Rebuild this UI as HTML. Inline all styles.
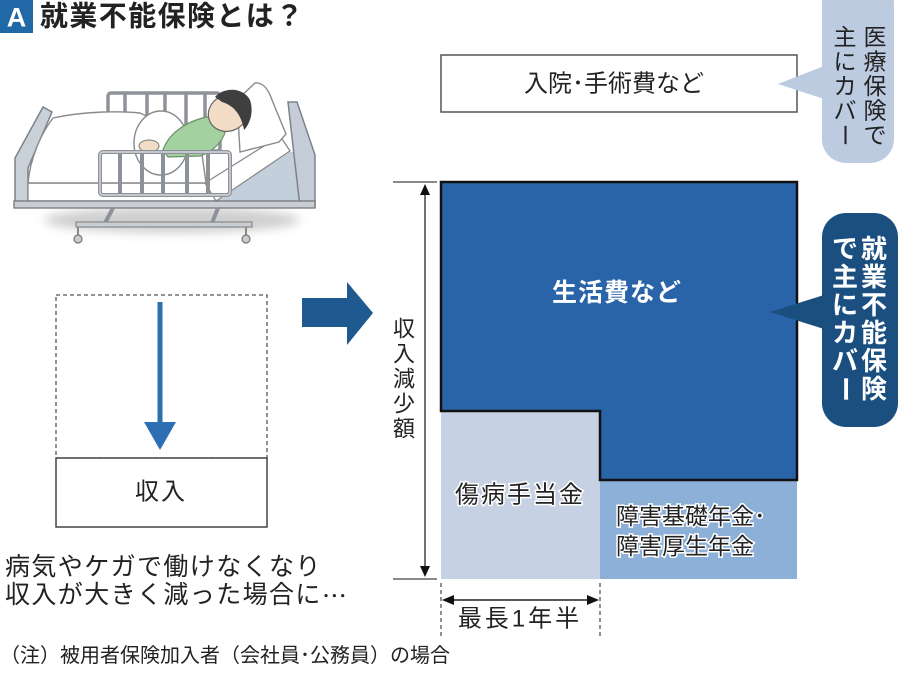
<!DOCTYPE html>
<html><head><meta charset="utf-8">
<style>
html,body{margin:0;padding:0;background:#fff;}
svg{display:block;}
text{font-family:"Liberation Sans","Noto Sans CJK JP",sans-serif;}
</style></head><body>
<svg width="900" height="693" viewBox="0 0 900 693" xmlns="http://www.w3.org/2000/svg">
<defs>
<filter id="blur" x="-20%" y="-80%" width="140%" height="260%"><feGaussianBlur stdDeviation="5"/></filter>
</defs>

<!-- Title -->
<rect x="0" y="0" width="33" height="33" fill="#2069a6"/>
<text x="16.5" y="17.5" text-anchor="middle" dominant-baseline="central" font-size="27" font-weight="bold" fill="#fff">A</text>
<text x="40" y="16" dominant-baseline="central" font-size="28" font-weight="bold" letter-spacing="1.4" fill="#222">就業不能保険とは？</text>

<!-- Bed illustration -->
<g>
  <ellipse cx="172" cy="220" rx="128" ry="13" fill="#cfcfcf" filter="url(#blur)"/>
  <!-- back rail -->
  <g stroke="#8d9299" stroke-width="3.5" fill="none">
    <rect x="108" y="93" width="112" height="58" rx="3"/>
    <line x1="125" y1="93" x2="125" y2="150"/>
    <line x1="147" y1="93" x2="147" y2="150"/>
    <line x1="165" y1="93" x2="165" y2="150"/>
    <line x1="186" y1="93" x2="186" y2="150"/>
    <line x1="205" y1="93" x2="205" y2="150"/>
  </g>
  <!-- left footboard -->
  <polygon points="15,158 43,107 52,112 28,168 28,207 15,207" fill="#c8d0d8" stroke="#7d838a" stroke-width="1.5"/>
  <!-- blue-gray area under backrest -->
  <polygon points="215,201 290,152 300,152 300,203 215,203" fill="#c3cfdb"/>
  <!-- mattress -->
  <rect x="28" y="183" width="190" height="18" fill="#fff" stroke="#8a8a8a" stroke-width="1.3"/>
  <!-- backrest slab -->
  <polygon points="205,183 280,136 290,151 216,201" fill="#fff" stroke="#8a8a8a" stroke-width="1.3"/>
  <!-- blanket -->
  <path d="M28,183 C30,160 40,135 53,118 C85,111 120,111 140,113 L200,140 L206,183 Z" fill="#fff" stroke="#8a8a8a" stroke-width="1.4"/>
  <!-- pillow -->
  <path d="M237,100 L255,83 C262,82 268,88 272,100 L286,134 L279,142 L240,152 Z" fill="#fff" stroke="#8a8a8a" stroke-width="1.4"/>
  <!-- headboard -->
  <polygon points="288,102 297,102 315,155 315,207 300,207" fill="#c5ced8" stroke="#7d838a" stroke-width="1.5"/>
  <!-- lobe (knees/arm under blanket) -->
  <ellipse cx="161" cy="143" rx="27" ry="32" fill="#fff" stroke="#8a8a8a" stroke-width="1.4"/>
  <!-- person -->
  <path d="M163,150 C170,130 192,119 212,116 L226,130 C222,143 212,152 200,156 L168,157 Z" fill="#a3d1a0" stroke="#6b8f6a" stroke-width="1.2"/>
  <ellipse cx="228" cy="113" rx="20" ry="18" transform="rotate(-25 228 113)" fill="#f3dcc6" stroke="#666" stroke-width="1.2"/>
  <path d="M215,97 C225,86 244,88 250,100 C254,112 250,124 244,130 C242,118 236,106 222,102 Z" fill="#3f3f3f"/>
  <ellipse cx="149" cy="146" rx="10" ry="6" fill="#f3dcc6" stroke="#777" stroke-width="1"/>
  <!-- front rail -->
  <g stroke="#8d9299" stroke-width="4" fill="none">
    <rect x="100" y="152" width="130" height="43" rx="3"/>
    <line x1="120" y1="152" x2="120" y2="195"/>
    <line x1="142" y1="152" x2="142" y2="195"/>
    <line x1="163" y1="152" x2="163" y2="195"/>
    <line x1="187" y1="152" x2="187" y2="195"/>
    <line x1="208" y1="152" x2="208" y2="195"/>
  </g>
  <rect x="100" y="152" width="130" height="43" rx="3" fill="none" stroke="#e6e9ec" stroke-width="1.2"/>
  <!-- frame -->
  <rect x="14" y="201" width="301" height="7" fill="#c9ced4" stroke="#777" stroke-width="1.3"/>
  <line x1="113" y1="208" x2="105" y2="223" stroke="#8d9299" stroke-width="4"/>
  <line x1="218" y1="208" x2="212" y2="223" stroke="#8d9299" stroke-width="4"/>
  <rect x="76" y="222" width="176" height="5" fill="#c9ced4" stroke="#888" stroke-width="1.2"/>
  <line x1="78" y1="227" x2="78" y2="235" stroke="#888" stroke-width="2"/>
  <line x1="246" y1="227" x2="246" y2="235" stroke="#888" stroke-width="2"/>
  <circle cx="78" cy="239" r="4" fill="#ccc" stroke="#777" stroke-width="1.2"/>
  <circle cx="246" cy="239" r="4" fill="#ccc" stroke="#777" stroke-width="1.2"/>
</g>

<!-- Top box -->
<rect x="441" y="55" width="356" height="57" fill="#fff" stroke="#555" stroke-width="1.5"/>
<text x="614" y="84" text-anchor="middle" dominant-baseline="central" font-size="24" fill="#222">入院･手術費など</text>

<!-- Light bubble -->
<rect x="822" y="-20" width="72" height="183" rx="24" fill="#bccbe0"/>
<polygon points="824,66 778,84 824,99" fill="#bccbe0"/>
<g font-size="23" fill="#222" text-anchor="middle" dominant-baseline="central">
  <text x="875" y="37">医</text>
  <text x="875" y="61.5">療</text>
  <text x="875" y="86">保</text>
  <text x="875" y="110.5">険</text>
  <text x="875" y="135">で</text>
  <text x="845" y="37">主</text>
  <text x="845" y="61.5">に</text>
  <text x="845" y="86">カ</text>
  <text x="845" y="110.5">バ</text>
  <text x="845" y="135" transform="rotate(90 845 135)">ー</text>
</g>

<!-- Main chart -->
<rect x="441" y="411" width="159" height="168" fill="#c6d2e4"/>
<rect x="600" y="480" width="197" height="99" fill="#8db0d9"/>
<polygon points="441,182 797,182 797,480 600,480 600,411 441,411" fill="#2a64a8" stroke="#111" stroke-width="2.5" stroke-linejoin="miter"/>
<text x="617" y="293" text-anchor="middle" dominant-baseline="central" font-size="25" font-weight="bold" letter-spacing="1" fill="#fff">生活費など</text>

<g font-size="24" fill="#222" stroke="#fff" stroke-width="3" paint-order="stroke" dominant-baseline="central">
  <text x="520" y="495" text-anchor="middle" letter-spacing="2">傷病手当金</text>
  <text x="616" y="516" font-size="23">障害基礎年金･</text>
  <text x="616" y="546" font-size="23">障害厚生年金</text>
</g>

<!-- Navy bubble -->
<rect x="822" y="213" width="76" height="214" rx="24" fill="#1b4f80"/>
<polygon points="824,295 770,312 824,329" fill="#1b4f80"/>
<g font-size="26" font-weight="bold" fill="#fff" text-anchor="middle" dominant-baseline="central">
  <text x="874" y="249">就</text>
  <text x="874" y="277">業</text>
  <text x="874" y="305">不</text>
  <text x="874" y="333">能</text>
  <text x="874" y="361">保</text>
  <text x="874" y="389">険</text>
  <text x="845" y="249">で</text>
  <text x="845" y="277">主</text>
  <text x="845" y="305">に</text>
  <text x="845" y="333">カ</text>
  <text x="845" y="361">バ</text>
  <text x="845" y="389" transform="rotate(90 845 389)">ー</text>
</g>

<!-- Vertical axis -->
<line x1="393" y1="182" x2="437" y2="182" stroke="#444" stroke-width="1.3"/>
<line x1="393" y1="579" x2="437" y2="579" stroke="#444" stroke-width="1.3"/>
<line x1="425" y1="190" x2="425" y2="571" stroke="#444" stroke-width="1.5"/>
<polygon points="425,184 420,195 430,195" fill="#111"/>
<polygon points="425,577 420,566 430,566" fill="#111"/>
<g font-size="22" fill="#222" text-anchor="middle" dominant-baseline="central">
  <text x="404" y="329">収</text>
  <text x="404" y="354">入</text>
  <text x="404" y="379">減</text>
  <text x="404" y="404">少</text>
  <text x="404" y="429">額</text>
</g>

<!-- Bottom dimension -->
<line x1="441" y1="583" x2="441" y2="636" stroke="#555" stroke-width="1.3" stroke-dasharray="4,3"/>
<line x1="600" y1="583" x2="600" y2="636" stroke="#555" stroke-width="1.3" stroke-dasharray="4,3"/>
<line x1="448" y1="600" x2="594" y2="600" stroke="#222" stroke-width="1.5"/>
<polygon points="442,600 454,595 454,605" fill="#111"/>
<polygon points="599,600 587,595 587,605" fill="#111"/>
<text x="520" y="619" text-anchor="middle" dominant-baseline="central" font-size="24" letter-spacing="3" fill="#222">最長1年半</text>

<!-- Big arrow -->
<polygon points="302,298 347,298 347,282 373,313 347,345 347,327 302,327" fill="#1e5a8f"/>

<!-- Left boxes -->
<rect x="56" y="295" width="211" height="163" fill="none" stroke="#555" stroke-width="1.3" stroke-dasharray="4,3"/>
<rect x="56" y="458" width="211" height="69" fill="#fff" stroke="#444" stroke-width="1.5"/>
<rect x="157.5" y="302" width="5" height="123" fill="#2e6eb3"/>
<polygon points="144,422 176,422 160,450" fill="#2e6eb3"/>
<text x="161" y="492" text-anchor="middle" dominant-baseline="central" font-size="24" letter-spacing="2" fill="#222">収入</text>

<!-- Left description -->
<g font-size="25" fill="#222" dominant-baseline="central" letter-spacing="1.4">
  <text x="5" y="567">病気やケガで働けなくなり</text>
  <text x="5" y="595">収入が大きく減った場合に<tspan font-family="Noto Sans CJK JP, sans-serif">…</tspan></text>
</g>

<!-- Note -->
<text x="0" y="656" dominant-baseline="central" font-size="20" fill="#222">（注）被用者保険加入者（会社員･公務員）の場合</text>
</svg>
</body></html>
